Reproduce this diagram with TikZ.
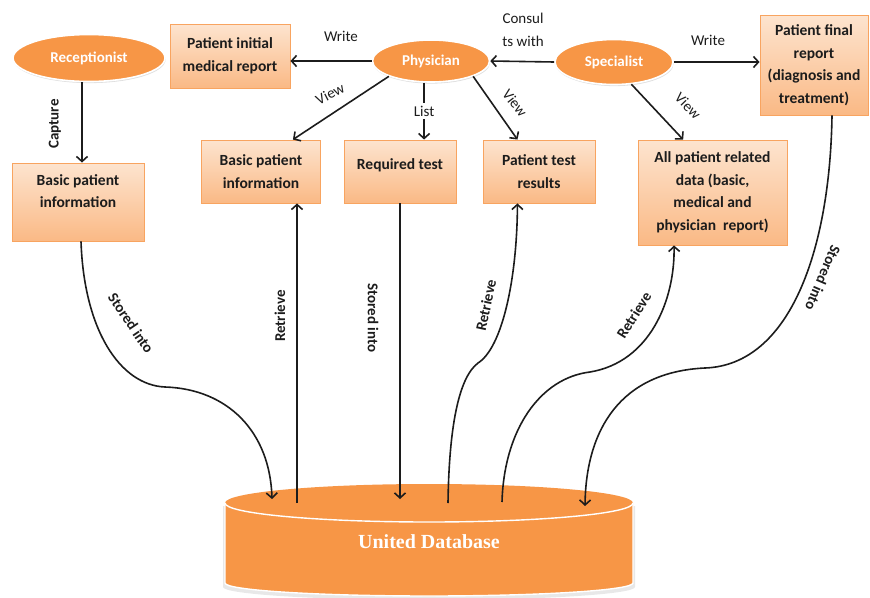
\documentclass[tikz,border=0pt]{standalone}
\usepackage{fontspec}
\setmainfont{Carlito}
\newfontfamily\dbfont{Liberation Serif}
\usetikzlibrary{arrows.meta,shapes,shadows}

\definecolor{roleorange}{HTML}{F79646}
\definecolor{boxtop}{HTML}{FDE4CF}
\definecolor{boxbot}{HTML}{FAB985}
\definecolor{boxline}{HTML}{F8A460}
\definecolor{txtdark}{HTML}{1C1C1C}

\begin{document}
\begin{tikzpicture}[x=1pt,y=-1pt,
    role/.style={ellipse,fill=roleorange,draw=white,line width=1.6pt,text=white,inner sep=0pt,
      font=\fontsize{15}{18}\selectfont\bfseries,
      drop shadow={shadow xshift=0.6pt,shadow yshift=-1.6pt,opacity=0.25}},
    infobox/.style={rectangle,draw=boxline,line width=0.9pt,top color=boxtop,bottom color=boxbot,
      align=center,text=txtdark,inner sep=2pt,font=\fontsize{15.5}{22.5}\selectfont\bfseries,
      drop shadow={shadow xshift=0.8pt,shadow yshift=-0.8pt,opacity=0.2}},
    conn/.style={line width=1.6pt,draw=txtdark,-{Straight Barb[length=5pt,width=11pt,line width=1.6pt]}},
    lbl/.style={text=txtdark,inner sep=1pt,font=\fontsize{15}{17}\selectfont\bfseries},
    thinlbl/.style={text=txtdark,inner sep=1pt,font=\fontsize{15}{23}\selectfont,align=center}]
    \useasboundingbox (0,0) rectangle (870,597);

    \node[role,minimum width=152pt,minimum height=47pt] (recep) at (89,58) {Receptionist};
    \node[role,minimum width=117pt,minimum height=42pt] (phys) at (431,61) {Physician};
    \node[role,minimum width=118pt,minimum height=45pt] (spec) at (614,62) {Specialist};

    \node[infobox,minimum width=120pt,minimum height=64pt] (initrep) at (230,56) {Patient initial\\medical report};
    \node[infobox,minimum width=108pt,minimum height=100pt] (finalrep) at (814,65) {Patient final\\report\\(diagnosis and\\treatment)};
    \node[infobox,minimum width=132pt,minimum height=78pt,text depth=22pt] (lbasic) at (78,202) {Basic patient\\information};
    \node[infobox,minimum width=119pt,minimum height=63pt] (mbasic) at (261,171.5) {Basic patient\\information};
    \node[infobox,minimum width=112pt,minimum height=63pt,text depth=14pt] (reqtest) at (400,171.5) {Required test};
    \node[infobox,minimum width=112pt,minimum height=63pt] (results) at (539,171.5) {Patient test\\results};
    \node[infobox,minimum width=149pt,minimum height=105pt] (alldata) at (712.5,192.5) {All patient related\\data (basic,\\medical and\\physician\ \ report)};

    % database
    \fill[black!9] (223,506) -- (223,587) arc[start angle=180,end angle=0,x radius=206,y radius=13] -- (635,506) -- cycle;
    \filldraw[fill=roleorange,draw=white,line width=1.4pt] (225,503) -- (225,583) arc[start angle=180,end angle=0,x radius=204,y radius=13] -- (633,503);
    \fill[roleorange] (429,503) ellipse[x radius=204,y radius=19];
    \draw[white,line width=1.4pt] (225,503) arc[start angle=180,end angle=0,x radius=204,y radius=19];
    \node[text=white,font=\dbfont\fontsize{20}{24}\selectfont\bfseries] (db) at (429,542) {United\ Database};

    \coordinate (dbA) at (272,499);
    \coordinate (dbB) at (297,503);
    \coordinate (dbC) at (400,499);
    \coordinate (dbD) at (448,503);
    \coordinate (dbE) at (502,502);
    \coordinate (dbF) at (585,506);

    \draw[conn] ([xshift=-7pt]recep.south) -- ([xshift=4pt]lbasic.north);
    \draw[conn] (phys.west) -- (phys.west -| initrep.east);
    \draw[conn] (spec.west) -- (phys.east);
    \draw[conn] (spec.east) -- (spec.east -| finalrep.west);
    \draw[conn] (phys.200) -- (mbasic.45);
    \draw[conn] (phys.-20) -- (results.124);
    \draw[conn] (spec.-52) -- (alldata.119);
    \draw[conn] (phys.south -| reqtest.53) -- node[thinlbl,fill=white,inner sep=3pt] (list) {List} (reqtest.53);

    \draw[conn] ([xshift=3pt]lbasic.south) .. controls (84,330) and (120,385) .. (165,387) .. controls (228,389) and (270,432) .. (dbA);
    \draw[conn] (dbB) -- (dbB |- mbasic.south);
    \draw[conn] (reqtest.south) -- (dbC);
    \draw[conn] (dbD) .. controls (449,430) and (458,378) .. (478,363) .. controls (502,348) and (517,280) .. (results.-124);
    \draw[conn] (dbE) .. controls (504,430) and (540,378) .. (590,372) .. controls (650,362) and (675,300) .. (alldata.-126);
    \draw[conn] ([xshift=18pt]finalrep.south) .. controls (830,250) and (790,365) .. (705,368) .. controls (620,372) and (586,430) .. (dbF);

    \node[lbl,rotate=90] (capture) at (55,124) {Capture};
    \node[thinlbl] (write1) at (341,36) {Write};
    \node[thinlbl] (consult) at (523,30) {Consul\\ts with};
    \node[thinlbl] (write2) at (708,40) {Write};
    \node[thinlbl,rotate=27] (view1) at (330,94) {View};
    \node[thinlbl,rotate=-52] (view2) at (515,103) {View};
    \node[thinlbl,rotate=-46] (view3) at (688,106) {View};
    \node[lbl,rotate=-56] (stored1) at (131,323) {Stored into};
    \node[lbl,rotate=90] (retr1) at (280,316) {Retrieve};
    \node[lbl,rotate=-90] (stored2) at (373,318) {Stored into};
    \node[lbl,rotate=78] (retr2) at (486,305) {Retrieve};
    \node[lbl,rotate=58] (retr3) at (634,315) {Retrieve};
    \node[lbl,rotate=-113] (stored3) at (823,278) {Stored into};
\end{tikzpicture}
\end{document}
